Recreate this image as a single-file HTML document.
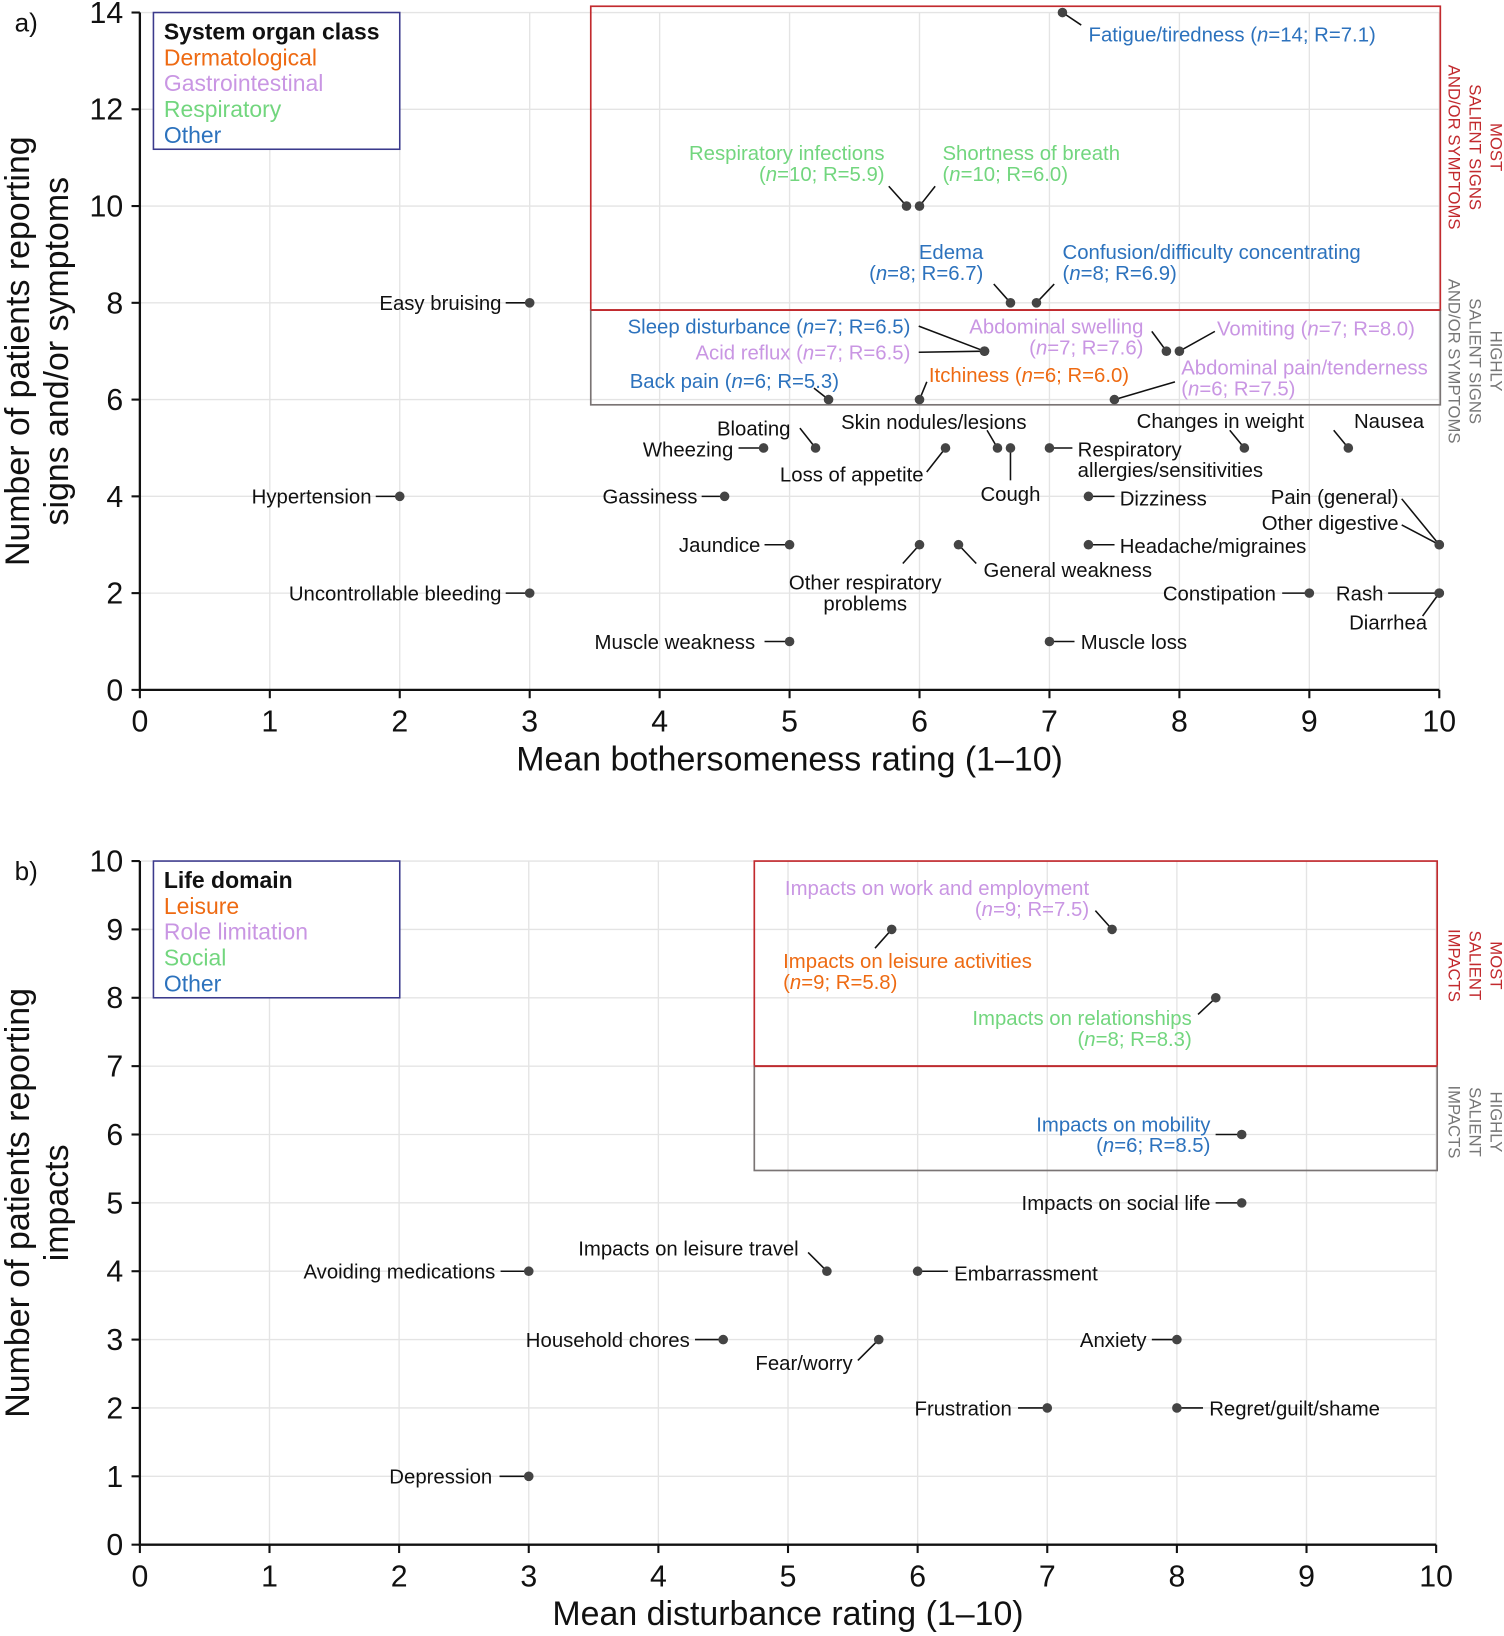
<!DOCTYPE html>
<html><head><meta charset="utf-8"><style>
html,body{margin:0;padding:0;background:#fff;}
svg{display:block;font-family:"Liberation Sans",Arial,sans-serif;}
</style></head><body>
<svg id="chart" width="1504" height="1636" viewBox="0 0 1441 1567.5" xmlns="http://www.w3.org/2000/svg"></svg>
<script>
// ===== Panel a data =====
const aNames = ["Fatigue/tiredness (n=14; R=7.1)","Respiratory infections|(n=10; R=5.9)","Shortness of breath|(n=10; R=6.0)","Edema|(n=8; R=6.7)","Confusion/difficulty concentrating|(n=8; R=6.9)","Easy bruising","Sleep disturbance (n=7; R=6.5)","Acid reflux (n=7; R=6.5)","Abdominal swelling|(n=7; R=7.6)","Vomiting (n=7; R=8.0)","Back pain (n=6; R=5.3)","Itchiness (n=6; R=6.0)","Abdominal pain/tenderness|(n=6; R=7.5)","Bloating","Wheezing","Loss of appetite","Skin nodules/lesions","Cough","Respiratory|allergies/sensitivities","Changes in weight","Nausea","Hypertension","Gassiness","Dizziness","Pain (general)","Other digestive","Jaundice","Other respiratory|problems","General weakness","Headache/migraines","Uncontrollable bleeding","Constipation","Rash","Diarrhea","Muscle weakness","Muscle loss"];
const aX = [7.1,5.9,6.0,6.7,6.9,3,6.5,6.5,7.9,8.0,5.3,6.0,7.5,5.2,4.8,6.2,6.6,6.7,7.0,8.5,9.3,2,4.5,7.3,10,10,5,6,6.3,7.3,3,9,10,10,5,7];
const aY = [14,10,10,8,8,8,7,7,7,7,6,6,6,5,5,5,5,5,5,5,5,4,4,4,3,3,3,3,3,3,2,2,2,2,1,1];
const aCat = ["O","R","R","O","O","K","O","G","G","G","O","D","G","K","K","K","K","K","K","K","K","K","K","K","K","K","K","K","K","K","K","K","K","K","K","K"];
// label layout (offsets from point in px): dx, dy, anchor, leader dx, leader dy
const aLay = [[25,28,"start",18,12],[-21,-44,"end",-17,-19],[22,-44,"start",15,-19],[-26,-42,"end",-16,-18],[25,-42,"start",17,-18],[-27,7,"end",-23,0],[-71,-17,"end",-63,-24],[-71,8,"end",-63,1],[-22,-17,"end",-14,-19],[36,-15,"start",34,-19],[10,-11,"end",-14,-11],[9,-17,"start",7,-17],[64,-24,"start",58,-17],[-24,-12,"end",-15,-19],[-29,8,"end",-24,0],[-21,32,"end",-18,23],[-61,-18,"middle",-10,-17],[0,51,"middle",0,31],[27,8,"start",22,0],[-23,-19,"middle",-14,-17],[39,-19,"middle",-14,-17],[-27,7,"end",-23,0],[-26,7,"end",-22,0],[30,9,"start",25,0],[-39,-39,"end",-36,-44],[-39,-14,"end",-36,-19],[-28,7,"end",-24,0],[-52,43,"middle",-16,18],[24,31,"start",17,18],[30,8,"start",25,0],[-27,7,"end",-23,0],[-32,7,"end",-26,0],[-99,7,"start",-49,0],[-49,35,"middle",-16,22],[-33,7,"end",-24,0],[30,7,"start",24,0]];
const aXTicks = [0,1,2,3,4,5,6,7,8,9,10];
const aYTicks = [0,2,4,6,8,10,12,14];

// ===== Panel b data =====
const bNames = ["Impacts on work and employment|(n=9; R=7.5)","Impacts on leisure activities|(n=9; R=5.8)","Impacts on relationships|(n=8; R=8.3)","Impacts on mobility|(n=6; R=8.5)","Impacts on social life","Avoiding medications","Impacts on leisure travel","Embarrassment","Household chores","Fear/worry","Anxiety","Frustration","Regret/guilt/shame","Depression"];
const bX = [7.5,5.8,8.3,8.5,8.5,3,5.3,6,4.5,5.7,8,7,8,3];
const bY = [9,9,8,6,5,4,4,4,3,3,3,2,2,1];
const bCat = ["G","D","R","O","K","K","K","K","K","K","K","K","K","K"];
const bLay = [[-22,-33,"end",-16,-18],[-104,37,"start",-16,18],[-23,26,"end",-17,16],[-30,-3,"end",-25,0],[-30,7,"end",-25,0],[-32,7,"end",-27,0],[-27,-15,"end",-18,-18],[35,9,"start",29,0],[-32,7,"end",-27,0],[-25,29,"end",-20,20],[-29,7,"end",-24,0],[-34,7,"end",-28,0],[31,7,"start",25,0],[-35,7,"end",-28,0]];
const bXTicks = [0,1,2,3,4,5,6,7,8,9,10];
const bYTicks = [0,1,2,3,4,5,6,7,8,9,10];

const COL = {D:"#ee6a12",G:"#c996e3",R:"#72d67e",O:"#2c72bd",K:"#111"};
const NS = "http://www.w3.org/2000/svg";
const svg = document.getElementById("chart");
function el(tag, attrs, parent){ const e=document.createElementNS(NS,tag); for(const k in attrs) e.setAttribute(k,attrs[k]); (parent||svg).appendChild(e); return e; }
function fillLine(t, s){
  const parts = s.split("(n=");
  parts.forEach((p,i)=>{
    if(i>0){ t.appendChild(document.createTextNode("(")); const it=document.createElementNS(NS,"tspan"); it.setAttribute("font-style","italic"); it.textContent="n"; t.appendChild(it); t.appendChild(document.createTextNode("="+p)); }
    else t.appendChild(document.createTextNode(p));
  });
}

function panel(cfg){
  const sx = v => cfg.x0 + (v - 0) * (cfg.x1 - cfg.x0) / 10;
  const sy = v => cfg.y0 - v * (cfg.y0 - cfg.y1) / cfg.yMax;
  const g = el("g",{});
  
  
  cfg.xt.forEach(v=>{ if(v>0){ const l=el("line",{x1:sx(v),x2:sx(v),y1:cfg.y1,y2:cfg.y0,stroke:"#e4e4e4","stroke-width":1.3},g);   }});
  cfg.yt.forEach(v=>{ if(v>0){ const l=el("line",{x1:cfg.x0,x2:cfg.x1,y1:sy(v),y2:sy(v),stroke:"#e4e4e4","stroke-width":1.3},g);   }});
  const top = cfg.y1 - cfg.boxTopOff;
  const r1=el("rect",{x:sx(cfg.boxX),y:top,width:cfg.x1+1-sx(cfg.boxX),height:sy(cfg.redY)-top,fill:"none",stroke:"#c22a2e","stroke-width":1.6},g);
   
  const r2=el("rect",{x:sx(cfg.boxX),y:sy(cfg.redY),width:cfg.x1+1-sx(cfg.boxX),height:sy(cfg.grayY)-sy(cfg.redY)+5,fill:"none",stroke:"#7a7474","stroke-width":1.6},g);
   
  const r3=el("line",{x1:sx(cfg.boxX),x2:cfg.x1+1,y1:sy(cfg.redY),y2:sy(cfg.redY),stroke:"#c22a2e","stroke-width":1.8},g);
   
  [[cfg.redLines,"#c22a2e",cfg.redC],[cfg.grayLines,"#777",cfg.grayC]].forEach(([lines,c,cy])=>{
    lines.forEach((s,i)=>{
      const x = 1428 - i*20;
      const t=el("text",{x:x,y:cy,transform:`rotate(90 ${x} ${cy})`,"text-anchor":"middle",fill:c,"font-size":16},g);
      t.textContent=s;
       
    });
  });
  const ax=el("path",{d:`M${cfg.x0},${cfg.y1} V${cfg.y0} H${cfg.x1}`,fill:"none",stroke:"#111","stroke-width":2.2},g);
   
  cfg.xt.forEach(v=>{
    el("line",{x1:sx(v),x2:sx(v),y1:cfg.y0,y2:cfg.y0+8,stroke:"#111","stroke-width":2},g);
    const t=el("text",{x:sx(v),y:cfg.y0+40,"text-anchor":"middle","font-size":29,fill:"#111"},g);
    t.textContent=v;  
  });
  cfg.yt.forEach(v=>{
    el("line",{x1:cfg.x0-8,x2:cfg.x0,y1:sy(v),y2:sy(v),stroke:"#111","stroke-width":2},g);
    const t=el("text",{x:cfg.x0-16,y:sy(v)+10,"text-anchor":"end","font-size":29,fill:"#111"},g);
    t.textContent=v;  
  });
  const xl=el("text",{x:(cfg.x0+cfg.x1)/2,y:cfg.y0+77,"text-anchor":"middle","font-size":32.5,fill:"#111"},g);
  xl.textContent=cfg.xTitle;  
  cfg.yTitle.forEach((s,i)=>{
    const x = 28 + i*37, cy=(cfg.y0+cfg.y1)/2;
    const t=el("text",{x:x,y:cy,transform:`rotate(-90 ${x} ${cy})`,"text-anchor":"middle","font-size":32.5,fill:"#111"},g);
    t.textContent=s;  
  });
  const pl=el("text",{x:14,y:cfg.y1+18,"font-size":25,fill:"#111"},g);
  pl.textContent=cfg.panelLabel;  
  const lg=el("g",{},g);
   
  el("rect",{x:147,y:cfg.y1,width:236,height:131,fill:"#fff",stroke:"#3b3a8c","stroke-width":1.5},lg);
  cfg.legend.forEach((s,i)=>{
    const t=el("text",{x:157,y:cfg.y1+26+i*24.7,"font-size":22,fill:i==0?"#111":COL[cfg.legCats[i]],"font-weight":i==0?"bold":"normal"},lg);
    t.textContent=s;  
  });
  cfg.names.forEach((nm,i)=>{
    const px=sx(cfg.X[i]), py=sy(cfg.Y[i]);
    const L=cfg.lay[i];
    const pg=el("g",{},g);
    
    
    el("line",{x1:px+L[3],y1:py+L[4],x2:px,y2:py,stroke:"#111","stroke-width":1.5},pg);
    el("circle",{cx:px,cy:py,r:4.6,fill:"#444"},pg);
    const lines=nm.split("|");
    lines.forEach((s,j)=>{
      const t=el("text",{x:px+L[0],y:py+L[1]+j*20,"text-anchor":L[2],"font-size":19.5,fill:COL[cfg.cats[i]]},pg);
      fillLine(t,s);
       
    });
  });
}

panel({name:"a",x0:134,x1:1379,y0:661,y1:12,yMax:14,xt:aXTicks,yt:aYTicks,names:aNames,X:aX,Y:aY,cats:aCat,lay:aLay,
  boxX:3.47,redY:7.85,grayY:6.0,redC:141,grayC:346,boxTopOff:6,
  redLines:["MOST","SALIENT SIGNS","AND/OR SYMPTOMS"],grayLines:["HIGHLY","SALIENT SIGNS","AND/OR SYMPTOMS"],
  xTitle:"Mean bothersomeness rating (1–10)",yTitle:["Number of patients reporting","signs and/or symptoms"],panelLabel:"a)",
  legend:["System organ class","Dermatological","Gastrointestinal","Respiratory","Other"],legCats:["K","D","G","R","O"]});
panel({name:"b",x0:134,x1:1376,y0:1480,y1:825,yMax:10,xt:bXTicks,yt:bYTicks,names:bNames,X:bX,Y:bY,cats:bCat,lay:bLay,
  boxX:4.74,redY:7,grayY:5.55,redC:925,grayC:1075,boxTopOff:0,
  redLines:["MOST","SALIENT","IMPACTS"],grayLines:["HIGHLY","SALIENT","IMPACTS"],
  xTitle:"Mean disturbance rating (1–10)",yTitle:["Number of patients reporting","impacts"],panelLabel:"b)",
  legend:["Life domain","Leisure","Role limitation","Social","Other"],legCats:["K","D","G","R","O"]});
</script>
</body></html>
